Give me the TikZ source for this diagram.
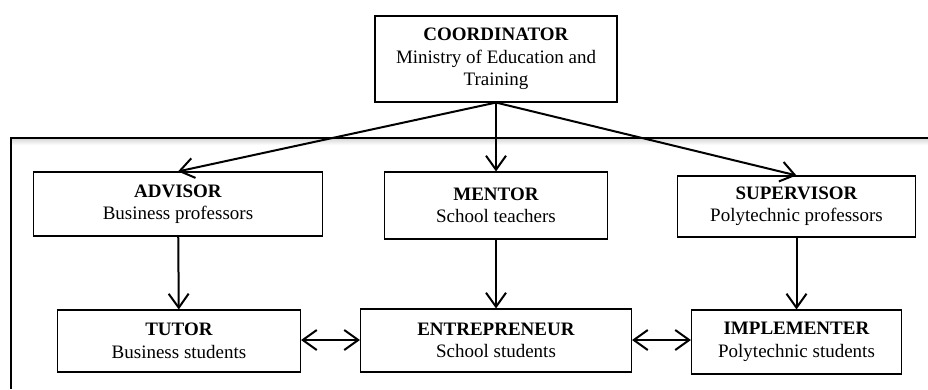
\documentclass[tikz,border=0pt]{standalone}
\usepackage{fontspec}
\setmainfont{Liberation Serif}
\usetikzlibrary{arrows.meta}
\newcommand{\role}[2]{\textbf{#1}\\#2}

\begin{document}
\begin{tikzpicture}[x=1pt,y=-1pt,node distance=100pt,
    box/.style={draw,line width=1.1pt,align=center,inner sep=0pt,
      font=\fontsize{19}{22.5}\selectfont},
    link/.style={line width=2pt},
    >={Straight Barb[length=14pt,width=20pt]}]
      \useasboundingbox (0,0) rectangle (928,389);
      \shade[top color=black!14,bottom color=white] (12,139) rectangle (928,145);
      \draw[line width=1.5pt] (11,389) -- (11,138) -- (928,138);

      \node [box,minimum width=242pt,minimum height=86pt] (coord) at (496,59)
        {\role{COORDINATOR}{Ministry of Education and\\Training}};
      \node [box,below of=coord,yshift=-46.5pt,minimum width=223pt,minimum height=67pt] (mentor)
        {\role{MENTOR}{School teachers}};
      \node [box,left of=mentor,xshift=-218pt,yshift=1.5pt,minimum width=289pt,minimum height=64pt] (advisor)
        {\role{ADVISOR}{Business professors}};
      \node [box,right of=mentor,xshift=200.5pt,yshift=-1pt,minimum width=238pt,minimum height=61pt] (supervisor)
        {\role{SUPERVISOR}{Polytechnic professors}};
      \node [box,below of=mentor,yshift=-35pt,minimum width=271pt,minimum height=63pt] (entre)
        {\role{ENTREPRENEUR}{School students}};
      \node [box,left of=entre,xshift=-217pt,yshift=-0.5pt,minimum width=243pt,minimum height=62pt] (tutor)
        {\role{TUTOR}{Business students}};
      \node [box,right of=entre,xshift=200.5pt,yshift=-1.5pt,minimum width=210pt,minimum height=64pt] (impl)
        {\role{IMPLEMENTER}{Polytechnic students}};

      \draw[link,->] (coord.south) -- (advisor.north);
      \draw[link,->] (coord.south) -- (mentor.north);
      \draw[link,->] (coord.south) -- (supervisor.north);
      \draw[link,->] (advisor) -- (tutor);
      \draw[link,->] (mentor) -- (entre);
      \draw[link,->] (supervisor) -- (impl);
      \draw[link,<->] (tutor.east |- 0,340) -- (entre.west |- 0,340);
      \draw[link,<->] (entre.east |- 0,340) -- (impl.west |- 0,340);
    \end{tikzpicture}
\end{document}
